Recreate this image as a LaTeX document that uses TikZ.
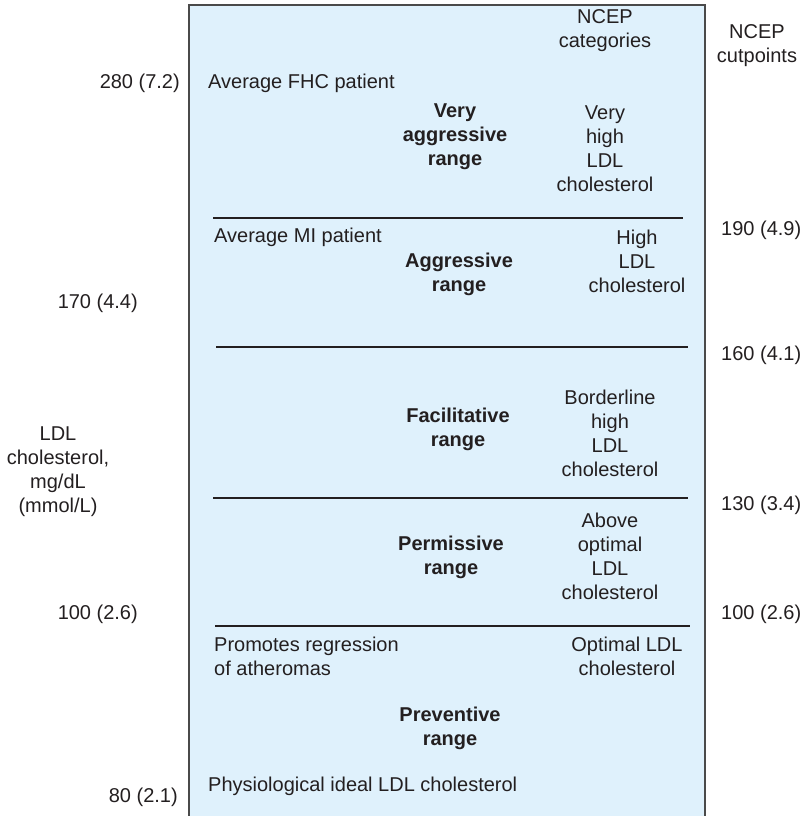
\documentclass[tikz,border=0pt]{standalone}
\usepackage{fontspec}
\setmainfont{Liberation Sans}
\definecolor{boxfill}{HTML}{DFF1FC}
\definecolor{boxedge}{HTML}{4A4A4A}
\definecolor{ink}{HTML}{231F20}
\begin{document}
\begin{tikzpicture}[x=1pt,y=-1pt,
  txt/.style={inner sep=0pt, text=ink, font=\fontsize{20}{24}\selectfont, align=center},
  bld/.style={txt, font=\fontsize{20}{24}\selectfont\bfseries},
  divider/.style={draw=ink, line width=1.1pt}]
\useasboundingbox (0,0) rectangle (809,816);
\fill[boxfill] (189,5) rectangle (705,816);
\draw[boxedge, line width=1.5pt] (189,818) -- (189,5) -- (705,5) -- (705,818);
% column headers
\node[txt] (ncepcat) at (605,31) {NCEP\\categories};
\node[txt] (ncepcut) at (757,46) {NCEP\\cutpoints};
% very aggressive band
\node[txt, anchor=east] (l280) at (180,83) {280 (7.2)};
\node[txt, anchor=west] (fhc) at (208,83) {Average FHC patient};
\node[bld] (vagg) at (455,137) {Very\\aggressive\\range};
\node[txt] (vhigh) at (605,149) {Very\\high\\LDL\\cholesterol};
\draw[divider] (213,218) -- (683,218);
% aggressive band
\node[txt, anchor=west] (mi) at (214,237) {Average MI patient};
\node[txt] (highldl) at (637,261) {High\\LDL\\cholesterol};
\node[bld] (agg) at (459,274) {Aggressive\\range};
\node[txt, anchor=west] (r190) at (721,230) {190 (4.9)};
\node[txt, anchor=east] (l170) at (138,303) {170 (4.4)};
\draw[divider] (216,347) -- (688,347);
\node[txt, anchor=west] (r160) at (721,355) {160 (4.1)};
% facilitative band
\node[txt] (border) at (610,433) {Borderline\\high\\LDL\\cholesterol};
\node[bld] (facil) at (458,429) {Facilitative\\range};
\node[txt] (axis) at (58,472) {LDL\\cholesterol,\\mg/dL\\(mmol/L)};
\draw[divider] (213,498) -- (688,498);
\node[txt, anchor=west] (r130) at (721,505) {130 (3.4)};
% permissive band
\node[txt] (above) at (610,556) {Above\\optimal\\LDL\\cholesterol};
\node[bld] (perm) at (451,557) {Permissive\\range};
\node[txt, anchor=east] (l100) at (138,614) {100 (2.6)};
\node[txt, anchor=west] (r100) at (721,614) {100 (2.6)};
\draw[divider] (215,626) -- (690,626);
% preventive band
\node[txt, anchor=west, align=left] (promotes) at (214,656) {Promotes regression\\of atheromas};
\node[txt] (optimal) at (627,656) {Optimal LDL\\cholesterol};
\node[bld] (prev) at (450,728) {Preventive\\range};
\node[txt, anchor=west] (phys) at (208,786) {Physiological ideal LDL cholesterol};
\node[txt, anchor=east] (l80) at (178,797) {80 (2.1)};
\end{tikzpicture}
\end{document}
